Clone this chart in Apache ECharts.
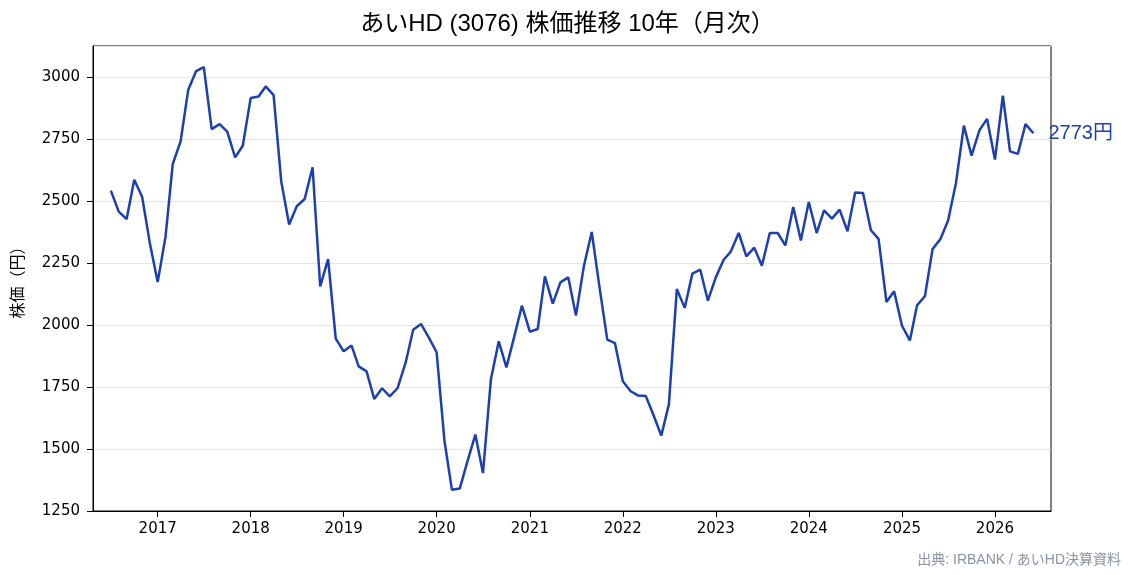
<!DOCTYPE html>
<html>
<head>
<meta charset="utf-8">
<script src="https://cdn.jsdelivr.net/npm/echarts@6/dist/echarts.min.js"></script>
<style>
  html, body { margin: 0; padding: 0; background: #fff; }
  #chart { width: 1135px; height: 575px; }
</style>
</head>
<body>
<div id="chart"></div>
<script>
  // 月次 (各月初)
  const months = [
    '2016-07', '2016-08', '2016-09', '2016-10', '2016-11', '2016-12',
    '2017-01', '2017-02', '2017-03', '2017-04', '2017-05', '2017-06', '2017-07', '2017-08', '2017-09', '2017-10', '2017-11', '2017-12',
    '2018-01', '2018-02', '2018-03', '2018-04', '2018-05', '2018-06', '2018-07', '2018-08', '2018-09', '2018-10', '2018-11', '2018-12',
    '2019-01', '2019-02', '2019-03', '2019-04', '2019-05', '2019-06', '2019-07', '2019-08', '2019-09', '2019-10', '2019-11', '2019-12',
    '2020-01', '2020-02', '2020-03', '2020-04', '2020-05', '2020-06', '2020-07', '2020-08', '2020-09', '2020-10', '2020-11', '2020-12',
    '2021-01', '2021-02', '2021-03', '2021-04', '2021-05', '2021-06', '2021-07', '2021-08', '2021-09', '2021-10', '2021-11', '2021-12',
    '2022-01', '2022-02', '2022-03', '2022-04', '2022-05', '2022-06', '2022-07', '2022-08', '2022-09', '2022-10', '2022-11', '2022-12',
    '2023-01', '2023-02', '2023-03', '2023-04', '2023-05', '2023-06', '2023-07', '2023-08', '2023-09', '2023-10', '2023-11', '2023-12',
    '2024-01', '2024-02', '2024-03', '2024-04', '2024-05', '2024-06', '2024-07', '2024-08', '2024-09', '2024-10', '2024-11', '2024-12',
    '2025-01', '2025-02', '2025-03', '2025-04', '2025-05', '2025-06', '2025-07', '2025-08', '2025-09', '2025-10', '2025-11', '2025-12',
    '2026-01', '2026-02', '2026-03', '2026-04', '2026-05', '2026-06'
  ]

  // 株価 (円)
  const prices = [
    2542, 2457, 2427, 2586, 2516, 2331,
    2173, 2358, 2649, 2741, 2949, 3024, 3040, 2790, 2810, 2780, 2676, 2723,
    2915, 2921, 2962, 2927, 2579, 2405, 2479, 2508, 2636, 2156, 2266, 1945,
    1894, 1917, 1833, 1813, 1702, 1745, 1712, 1746, 1847, 1981, 2004, 1950,
    1890, 1531, 1336, 1341, 1450, 1558, 1403, 1780, 1934, 1829, 1954, 2078,
    1973, 1984, 2196, 2086, 2172, 2192, 2038, 2237, 2375, 2156, 1941, 1927,
    1773, 1733, 1716, 1714, 1638, 1554, 1681, 2145, 2069, 2207, 2223, 2098,
    2192, 2263, 2296, 2371, 2277, 2312, 2239, 2371, 2371, 2321, 2476, 2341,
    2496, 2371, 2462, 2429, 2465, 2378, 2534, 2532, 2382, 2347, 2093, 2136,
    1997, 1938, 2079, 2116, 2306, 2347, 2421, 2573, 2804, 2683, 2785, 2831,
    2667, 2925, 2700, 2690, 2810, 2773
  ]

  const yTicks = [1250, 1500, 1750, 2000, 2250, 2500, 2750, 3000]

  const chart = echarts.init(document.getElementById('chart'), null, { renderer: 'canvas' })
  const jp = '"Liberation Sans", "Noto Sans CJK JP", sans-serif'
  const num = '"DejaVu Sans", sans-serif'
  const blue = '#1e3fb0'
  const lastVal = prices[prices.length - 1]

  chart.setOption({
    animation: false,
    backgroundColor: '#fff',
    title: [
      {
        text: 'あいHD (3076) 株価推移 10年（月次）',
        left: 'center',
        top: 7,
        textStyle: { fontFamily: jp, fontSize: 24, fontWeight: 'normal', color: '#000' }
      },
      {
        text: '出典: IRBANK / あいHD決算資料',
        right: 9,
        top: 548,
        textStyle: { fontFamily: jp, fontSize: 14, fontWeight: 'normal', color: '#8a93a3' }
      }
    ],
    grid: {
      left: 93, right: 84, top: 46, bottom: 64,
      show: true, borderColor: '#000', borderWidth: 1, backgroundColor: 'transparent'
    },
    xAxis: {
      type: 'time',
      min: '2016-04-22',
      max: '2026-08-09',
      minInterval: 365 * 24 * 3600 * 1000,
      maxInterval: 366 * 24 * 3600 * 1000,
      axisLine: { show: true, onZero: false, lineStyle: { color: '#000', width: 1 } },
      axisTick: { show: true, length: 6, lineStyle: { color: '#000' } },
      axisLabel: {
        formatter: '{yyyy}', color: '#000', fontFamily: num, fontSize: 15, margin: 11,
        fontWeight: 'normal', showMinLabel: false, showMaxLabel: false
      },
      splitLine: { show: false }
    },
    yAxis: {
      type: 'value',
      min: yTicks[0],
      max: 3125,
      interval: 250,
      name: '株価（円）',
      nameLocation: 'middle',
      nameGap: 68,
      nameRotate: 90,
      nameTextStyle: { fontFamily: '"Noto Sans CJK JP", sans-serif', fontSize: 16, color: '#000' },
      axisLine: { show: true, lineStyle: { color: '#000', width: 1 } },
      axisTick: { show: true, length: 6, lineStyle: { color: '#000' } },
      axisLabel: {
        color: '#000', fontFamily: num, fontSize: 15, margin: 13, showMaxLabel: false,
        formatter: (v) => String(v)
      },
      splitLine: { show: true, lineStyle: { color: '#e6e6e6', width: 1 } }
    },
    series: [
      {
        type: 'line',
        data: months.map((m, i) => [m, prices[i]]),
        showSymbol: false,
        symbol: 'none',
        lineStyle: { color: blue, width: 2.5 },
        itemStyle: { color: blue },
        endLabel: {
          show: true,
          distance: 15,
          formatter: () => lastVal + '円',
          color: blue,
          fontFamily: jp,
          fontSize: 20
        }
      }
    ]
  })
</script>
</body>
</html>
